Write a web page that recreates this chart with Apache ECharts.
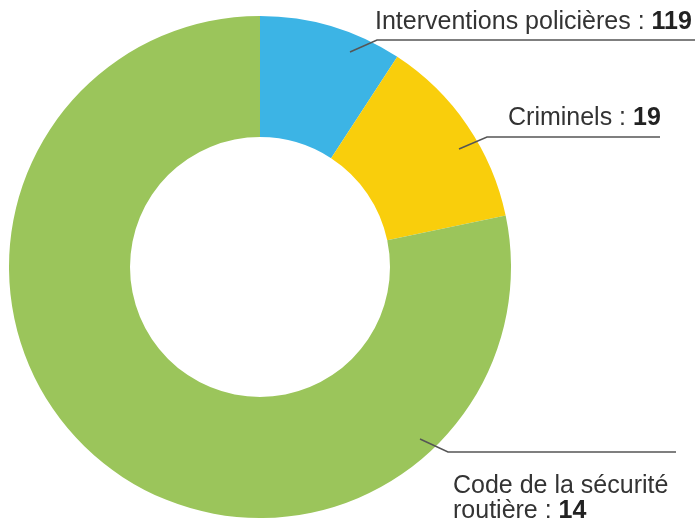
<!DOCTYPE html>
<html>
<head>
<meta charset="utf-8">
<script src="https://cdn.jsdelivr.net/npm/echarts@6/dist/echarts.min.js"></script>
<style>
  html, body { margin: 0; padding: 0; background: #fff; }
  #main { width: 699px; height: 525px; }
</style>
</head>
<body>
<div id="main"></div>
<script>
// slice sizes (the printed labels don't match the slices)
var categories = ["Interventions policières", "Criminels", "Code de la sécurité\nroutière"];
var sliceValues = [14, 19, 119];
var labelValues = [119, 19, 14];
var colors = ["#3cb4e5", "#f9ce0c", "#9bc55b"];

// where each label sits and where its leader line starts / bends
var labelPos = [
  { x: 375, y: 22, line: [[350, 52], [377, 40], [695, 40]] },
  { x: 508, y: 118, line: [[459, 149], [487, 137], [660, 137]] },
  { x: 453, y: 499, line: [[420, 439], [448, 452], [676, 452]] }
];

var chartDom = document.getElementById("main");
var myChart = echarts.init(chartDom);

var center = [260, 267];
var radius = [130, 251];

// coloured ring
var ringData = categories.map(function (name, i) {
  return { name: name, value: sliceValues[i], itemStyle: { color: colors[i] } };
});

// transparent copy on top, only for labels + leader lines (so lines go over the ring)
var labelData = categories.map(function (name, i) {
  return {
    name: name,
    value: sliceValues[i],
    label: {
      formatter: "{a|" + name.split("\n").join("}\n{a|") + " : }{b|" + labelValues[i] + "}"
    }
  };
});

var option = {
  animation: false,
  series: [
    {
      type: "pie",
      z: 1,
      center: center,
      radius: radius,
      startAngle: 90,
      clockwise: true,
      silent: true,
      itemStyle: { borderWidth: 0 },
      label: { show: false },
      labelLine: { show: false },
      data: ringData
    },
    {
      type: "pie",
      z: 5,
      center: center,
      radius: radius,
      startAngle: 90,
      clockwise: true,
      silent: true,
      itemStyle: { color: "rgba(0,0,0,0)", borderWidth: 0 },
      label: {
        show: true,
        position: "outside",
        overflow: "none",
        align: "left",
        lineHeight: 25,
        rich: {
          a: {
            fontFamily: "Liberation Sans",
            fontSize: 25,
            color: "#333",
            lineHeight: 25
          },
          b: {
            fontFamily: "Liberation Sans",
            fontSize: 25,
            fontWeight: "bold",
            color: "#222",
            lineHeight: 25
          }
        }
      },
      labelLine: {
        show: true,
        lineStyle: { color: "#555", width: 1.5 }
      },
      labelLayout: function (params) {
        var p = labelPos[params.dataIndex];
        return {
          x: p.x,
          y: p.y,
          align: "left",
          verticalAlign: "middle",
          labelLinePoints: p.line
        };
      },
      data: labelData
    }
  ]
};

option && myChart.setOption(option);
</script>
</body>
</html>
